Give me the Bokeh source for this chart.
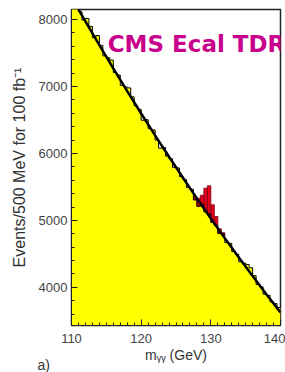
import numpy as np
from bokeh.plotting import figure
from bokeh.models import Range1d, Label, FixedTicker, Title
from bokeh.embed import file_html
from bokeh.resources import INLINE

# --- data ---
mass_lo = 110.0
mass_hi = 140.0
bin_width = 0.5

background = [8305, 8165, 8115, 7995, 8016, 7898, 7729, 7761, 7614, 7457,
              7430, 7394, 7208, 7172, 7017, 6993, 6979, 6845, 6711, 6658,
              6496, 6504, 6372, 6351, 6200, 6079, 6089, 5960, 5920, 5792,
              5783, 5655, 5608, 5490, 5464, 5307, 5211, 5236, 5131, 5096,
              4972, 4928, 4805, 4792, 4669, 4657, 4535, 4494, 4383, 4362,
              4342, 4292, 4173, 4044, 4006, 3898, 3880, 3783, 3756, 3699]

signal = [0] * 35 + [40, 120, 140, 350, 420, 260, 130, 70, 25] + [0] * 16

fit_mass = [110, 112, 114, 116, 118, 120, 122, 124, 126, 128, 130, 132, 134, 136, 138, 140]
fit_vals = [8331, 7971, 7617, 7271, 6931, 6597, 6270, 5950, 5636, 5329, 5029, 4735,
            4448, 4168, 3894, 3626]

x_ticks = [110, 120, 130, 140]
y_ticks = [4000, 5000, 6000, 7000, 8000]

# --- derived ---
edges = np.arange(mass_lo, mass_hi + bin_width / 2, bin_width)
left = edges[:-1]
right = edges[1:]
bg = np.array(background, dtype=float)
sg = np.array(signal, dtype=float)
bg_ext = list(bg) + [bg[-1]]

p = figure(width=285, height=372, output_backend="svg", toolbar_location=None,
           x_range=Range1d(mass_lo, mass_hi), y_range=Range1d(3430, 8150),
           min_border_left=71, min_border_right=5, min_border_top=9, min_border_bottom=47)
p.background_fill_color = "white"
p.border_fill_color = "white"
p.outline_line_color = "#222222"
p.outline_line_width = 1.5
p.grid.visible = False

# yellow background histogram (single area, no seams)
p.varea_step(x=list(edges), y1=[0] * len(edges), y2=bg_ext, step_mode="after",
             fill_color="#ffff00")
# red signal stacked on top
mask = sg > 0
p.quad(left=left[mask], right=right[mask], bottom=bg[mask], top=(bg + sg)[mask],
       fill_color="#e3001b", line_color="#7a0010", line_width=0.8)
# step outline of histogram
p.step(x=list(edges), y=bg_ext, mode="after", line_color="black", line_width=1)
# fit line
p.line(fit_mass, fit_vals, line_color="black", line_width=2.5)

# axes
p.xaxis.ticker = FixedTicker(ticks=x_ticks, minor_ticks=list(np.arange(110, 141, 1.0)))
p.yaxis.ticker = FixedTicker(ticks=y_ticks, minor_ticks=list(np.arange(3400, 8200, 200.0)))
for ax in (p.xaxis[0], p.yaxis[0]):
    ax.major_tick_in = 6
    ax.major_tick_out = 0
    ax.minor_tick_in = 3
    ax.minor_tick_out = 0
    ax.axis_line_color = "#222222"
    ax.major_tick_line_color = "#222222"
    ax.minor_tick_line_color = "#222222"
    ax.major_label_text_font = "Liberation Sans"
    ax.major_label_text_font_size = "13px"
    ax.major_label_text_color = "#444444"
    ax.axis_label_text_font = "Liberation Sans"
    ax.axis_label_text_font_style = "normal"
    ax.axis_label_text_color = "#333333"

p.xaxis.axis_label = "mᵧᵧ (GeV)"
p.xaxis.axis_label_text_font_size = "14px"
p.xaxis.major_label_standoff = 8
p.xaxis.axis_label_standoff = 1
p.yaxis.axis_label = "Events/500 MeV for 100 fb⁻¹"
p.yaxis.axis_label_text_font_size = "16px"
p.yaxis.major_label_standoff = 4
p.yaxis.axis_label_standoff = 8

p.add_layout(Label(x=115.2, y=7640, text="CMS Ecal TDR", text_font="DejaVu Sans",
                   text_font_style="bold", text_font_size="23px", text_color="#c8008c",
                   text_baseline="middle", text_align="left"))
p.add_layout(Title(text="a)", align="left", vertical_align="top", offset=-34, standoff=-18,
                   text_font="Liberation Sans", text_font_size="14px",
                   text_font_style="normal", text_color="#333333"), "below")

open("out.html", "w").write(file_html(p, INLINE))
